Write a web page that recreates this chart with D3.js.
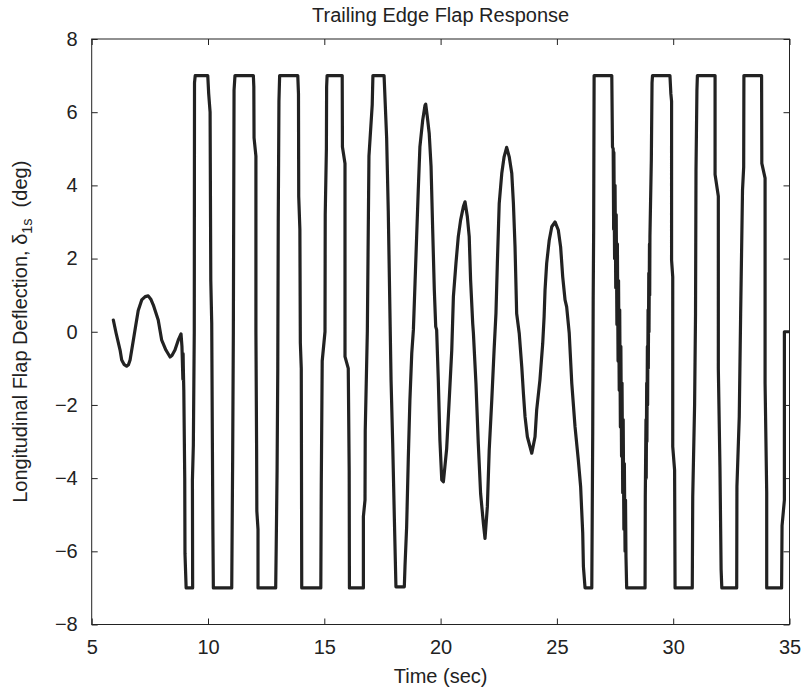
<!DOCTYPE html>
<html>
<head>
<meta charset="utf-8">
<script src="https://cdn.jsdelivr.net/npm/d3@7"></script>
<style>
  html, body { margin: 0; padding: 0; background: #fff; }
  svg { display: block; }
  text { font-family: "Liberation Sans", Arial, Helvetica, sans-serif; fill: #222; }
</style>
</head>
<body>
<svg id="chart" width="806" height="689"></svg>
<script>
// ---- data ----
const titleText = "Trailing Edge Flap Response";
const xLabelText = "Time (sec)";
const xTicks = [5, 10, 15, 20, 25, 30, 35];
const yTicks = [-8, -6, -4, -2, 0, 2, 4, 6, 8];

// time (sec)
const time = [
  5.93, 6.05, 6.22, 6.29, 6.40, 6.50, 6.58, 6.65, 6.79, 6.90, 7.00, 7.15, 7.30, 7.43, 7.55, 7.65, 7.86, 8.01, 8.19, 8.37, 8.45, 8.58, 8.72, 8.84,
  8.88, 8.92, 8.93, 8.94, 8.96, 9.00, 9.01, 9.06, 9.34, 9.33, 9.37, 9.41, 9.42, 9.45,
  9.99, 10.03, 10.09, 10.12, 10.16, 10.19, 10.21, 10.23, 11.02, 11.06, 11.09, 11.12, 11.16,
  11.95, 11.97, 11.98, 12.06, 12.06, 12.09, 12.10, 12.15, 12.15, 12.91, 12.93, 12.97, 13.00, 13.02, 13.05, 13.08,
  13.86, 13.89, 13.90, 13.95, 13.97, 14.01, 14.03, 14.85, 14.87, 14.91, 15.03, 15.04, 15.09, 15.10, 15.12,
  15.77, 15.78, 15.89, 15.89, 16.03, 16.07, 16.08, 16.68, 16.68, 16.75, 16.76, 16.85, 16.92, 17.06, 17.09,
  17.57, 17.68, 17.75, 17.87, 17.94, 18.01, 18.08, 18.44, 18.47, 18.54, 18.61, 18.68, 18.76, 18.83,
  18.90, 18.97, 19.04, 19.11, 19.23, 19.33, 19.36, 19.43, 19.51, 19.59, 19.66, 19.73, 19.79, 19.83, 19.90, 19.97, 20.05, 20.12,
  20.26, 20.37, 20.48, 20.55, 20.66, 20.76, 20.86, 20.98, 21.05, 21.15, 21.23, 21.29, 21.38, 21.41, 21.52, 21.62, 21.72, 21.84, 21.91,
  22.01, 22.09, 22.20, 22.30, 22.38, 22.44, 22.52, 22.63, 22.73, 22.84, 22.95, 23.06, 23.13, 23.20, 23.27, 23.38, 23.49, 23.56, 23.63, 23.73, 23.92,
  24.06, 24.13, 24.27, 24.39, 24.45, 24.49, 24.56, 24.67, 24.78, 24.92, 25.06, 25.16, 25.25, 25.35, 25.42, 25.53, 25.64, 25.78, 25.92, 26.02, 26.11, 26.14, 26.21,
  26.50, 26.54, 26.56, 26.58, 26.60,
  27.36, 27.39, 27.42, 27.44, 27.45, 27.48, 27.50, 27.53, 27.55, 27.58, 27.60, 27.63, 27.65, 27.68, 27.70, 27.73, 27.75, 27.78, 27.80, 27.83, 27.85, 27.88, 27.90, 27.93, 27.95, 27.97, 28.00,
  28.79, 28.80, 28.83, 28.84, 28.86, 28.87, 28.89, 28.90, 28.92, 28.93, 28.95, 28.96, 28.98, 28.99, 29.00, 29.06, 29.09, 29.11,
  29.86, 29.90, 29.93, 29.93, 29.98, 29.98, 30.06, 30.08, 30.82, 30.84, 30.92, 30.96, 30.98, 31.02, 31.04,
  31.80, 31.80, 31.94, 31.94, 32.01, 32.06, 32.09, 32.73, 32.74, 32.84, 32.90, 32.98, 33.03, 33.04,
  33.80, 33.81, 33.95, 33.95, 34.02, 34.02, 34.66, 34.68, 34.78, 34.78, 35.00
];

// longitudinal flap deflection (deg)
const deflection = [
  0.32, -0.04, -0.50, -0.77, -0.90, -0.94, -0.90, -0.77, -0.23, 0.20, 0.58, 0.87, 0.96, 0.98, 0.88, 0.73, 0.32, -0.23, -0.50, -0.69, -0.65, -0.50, -0.23, -0.06,
  -0.40, -1.30, -0.60, -1.00, -1.60, -4.00, -6.05, -7.00, -7.00, -4.05, -3.10, 0.00, 6.80, 7.00,
  7.00, 6.50, 6.00, 1.40, 0.24, -3.20, -5.40, -7.00, -7.00, -3.50, 0.00, 6.60, 7.00,
  7.00, 6.70, 5.30, 4.80, 0.00, -3.20, -4.90, -5.40, -7.00, -7.00, -6.00, -3.80, -1.00, 3.00, 6.30, 7.00,
  7.00, 6.50, 3.70, 2.80, -0.30, -1.00, -7.00, -7.00, -4.20, -0.80, 0.00, 3.20, 5.00, 6.70, 7.00,
  7.00, 5.05, 4.60, -0.68, -1.00, -3.80, -7.00, -7.00, -5.05, -4.60, -2.70, 0.00, 4.80, 6.20, 7.00,
  7.00, 5.30, 3.30, -1.32, -3.04, -5.05, -6.97, -6.97, -6.40, -5.33, -3.50, -1.87, -0.59, 0.05,
  1.32, 2.60, 3.87, 5.05, 5.78, 6.19, 6.22, 5.87, 5.42, 4.51, 2.78, 1.14, 0.14, 0.05, -1.30, -2.96, -4.05, -4.10,
  -3.20, -1.87, -0.50, 0.96, 1.87, 2.60, 3.05, 3.42, 3.55, 3.14, 2.60, 1.41, 0.23, -0.04, -1.41, -3.05, -4.42, -5.24, -5.65,
  -4.78, -3.23, -1.87, -0.50, 0.50, 1.87, 3.51, 4.33, 4.78, 5.04, 4.78, 4.33, 3.51, 2.32, 0.50, -0.04, -0.96, -1.68, -2.32, -2.87, -3.32,
  -2.87, -2.14, -1.32, -0.32, 0.41, 1.14, 1.87, 2.50, 2.87, 3.00, 2.78, 2.32, 1.50, 0.87, 0.68, -0.04, -1.41, -2.60, -3.50, -4.23, -5.50, -6.42, -7.00,
  -7.00, -2.78, 0.86, 2.78, 7.00,
  7.00, 5.05, 5.00, 2.80, 4.90, 2.00, 4.00, 1.20, 3.20, 0.20, 2.40, -0.80, 1.40, -1.60, 0.60, -2.60, -0.40, -3.40, -1.40, -4.40, -2.40, -5.40, -3.60, -6.00, -4.60, -6.15, -7.00,
  -7.00, -4.50, -2.40, -4.00, -1.40, -3.00, -0.40, -2.00, 0.60, -1.00, 1.60, 0.00, 2.40, 1.00, 2.60, 4.70, 6.80, 7.00,
  7.00, 6.50, 6.30, 1.96, 1.50, -3.14, -3.78, -7.00, -7.00, -4.50, -2.00, 0.50, 4.40, 6.60, 7.00,
  7.00, 4.30, 3.70, -1.00, -3.70, -6.50, -7.00, -7.00, -4.23, -2.32, 0.50, 3.87, 4.50, 7.00,
  7.00, 4.60, 4.20, -1.40, -4.40, -7.00, -7.00, -5.30, -4.60, 0.00, 0.00
];

// ---- layout ----
const W = 806, H = 689;
const margin = { left: 91.7, right: 16.5, top: 39, bottom: 64.5 };
const x0 = margin.left, x1 = W - margin.right;
const y0 = margin.top, y1 = H - margin.bottom;
const FONT = 20;
const INK = "#222";

const svg = d3.select("#chart");
svg.append("rect").attr("width", W).attr("height", H).attr("fill", "#fff");

const x = d3.scaleLinear().domain([5, 35]).range([x0, x1]);
const y = d3.scaleLinear().domain([-8, 8]).range([y1, y0]);

const fmt = d => (d < 0 ? "\u2212" + Math.abs(d) : String(d));

// clip
svg.append("clipPath").attr("id", "clip")
  .append("rect").attr("x", x0).attr("y", y0).attr("width", x1 - x0).attr("height", y1 - y0);

// data line
const pts = time.map((t, i) => [t, deflection[i]]);
svg.append("path")
  .datum(pts)
  .attr("clip-path", "url(#clip)")
  .attr("fill", "none")
  .attr("stroke", INK)
  .attr("stroke-width", 3.2)
  .attr("stroke-linejoin", "round")
  .attr("stroke-linecap", "round")
  .attr("d", d3.line().x(d => x(d[0])).y(d => y(d[1])));

// axes (MATLAB box with inward ticks)
const tickLen = 6;
const bottomAxis = d3.axisBottom(x).tickValues(xTicks).tickSizeInner(-tickLen).tickSizeOuter(0).tickPadding(tickLen + 9).tickFormat(fmt);
const topAxis = d3.axisTop(x).tickValues(xTicks).tickSizeInner(-tickLen).tickSizeOuter(0).tickFormat("");
const leftAxis = d3.axisLeft(y).tickValues(yTicks).tickSizeInner(-tickLen).tickSizeOuter(0).tickPadding(tickLen + 8).tickFormat(fmt);
const rightAxis = d3.axisRight(y).tickValues(yTicks).tickSizeInner(-tickLen).tickSizeOuter(0).tickFormat("");

function style(g) {
  g.selectAll("path.domain").remove();
  g.selectAll("line").attr("stroke", INK).attr("stroke-width", 1);
  g.selectAll("text").attr("font-size", FONT).attr("fill", INK)
    .style("font-family", '"Liberation Sans", Arial, sans-serif');
}
svg.append("g").attr("transform", `translate(0,${y1})`).call(bottomAxis).call(style);
svg.append("g").attr("transform", `translate(0,${y0})`).call(topAxis).call(style);
svg.append("g").attr("transform", `translate(${x0},0)`).call(leftAxis).call(style);
svg.append("g").attr("transform", `translate(${x1},0)`).call(rightAxis).call(style);

// box
svg.append("rect").attr("x", x0).attr("y", y0).attr("width", x1 - x0).attr("height", y1 - y0)
  .attr("fill", "none").attr("stroke", INK).attr("stroke-width", 1);

// title
svg.append("text").attr("x", (x0 + x1) / 2).attr("y", 22).attr("text-anchor", "middle")
  .attr("font-size", FONT).text(titleText);

// x label
svg.append("text").attr("x", (x0 + x1) / 2).attr("y", 683).attr("text-anchor", "middle")
  .attr("font-size", FONT).text(xLabelText);

// y label
const yl = svg.append("text")
  .attr("transform", `translate(27,${(y0 + y1) / 2}) rotate(-90)`)
  .attr("text-anchor", "middle").attr("font-size", FONT);
yl.append("tspan").text("Longitudinal Flap Deflection, \u03b4");
yl.append("tspan").attr("dy", 5).attr("font-size", FONT * 0.72).text("1s");
yl.append("tspan").attr("dy", -5).text("\u00a0 (deg)");
</script>
</body>
</html>
